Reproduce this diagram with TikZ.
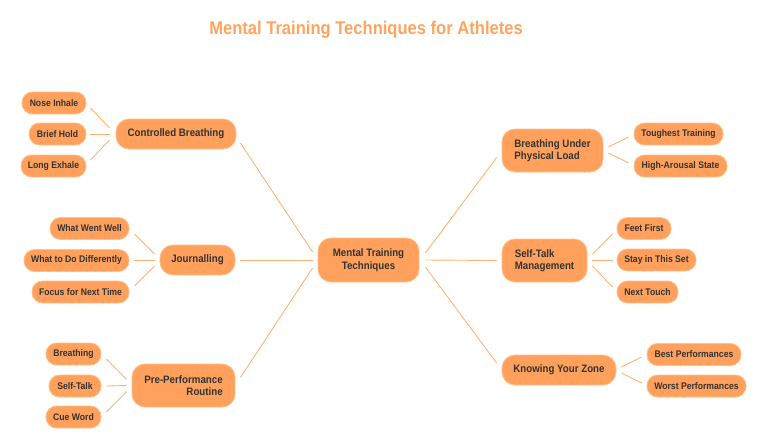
\documentclass[tikz,border=0pt]{standalone}
\usepackage{fontspec}
\setmainfont{Liberation Sans}[FakeStretch=0.9]
\usetikzlibrary{calc}
\definecolor{boxfill}{HTML}{FFA15C}
\definecolor{boxedge}{HTML}{FFC08A}
\definecolor{linec}{HTML}{FFB373}
\definecolor{txt}{HTML}{333333}
\definecolor{titlec}{HTML}{FFA45E}
\begin{document}
\begin{tikzpicture}[x=1pt,y=-1pt,
  box/.style={fill=boxfill,draw=boxedge,line width=0.8pt,text=txt,inner sep=0pt,
    font=\bfseries\fontsize{10.8}{12.5}\selectfont,rounded corners=13pt,minimum height=30pt},
  tall/.style={box,minimum height=43pt},
  leaf/.style={box,font=\bfseries\fontsize{9.6}{11}\selectfont,rounded corners=10.5pt,minimum height=22pt},
  conn/.style={draw=linec,line width=0.9pt}]
\useasboundingbox (0,0) rectangle (767,436);

\node[text=titlec,font=\bfseries\fontsize{18.4}{20}\selectfont] (title) at (366,30) {Mental Training Techniques for Athletes};

% centre
\node[tall,minimum width=101pt,minimum height=44pt,align=center] (mt) at (368.5,260) {Mental Training\\Techniques};

% left main
\node[box,minimum width=120pt] (cb) at (176,134) {Controlled Breathing};
\node[box,minimum width=75pt] (jo) at (197.5,260) {Journalling};
\node[tall,minimum width=103pt,align=right] (pp) at (183.5,385.5) {Pre-Performance\\Routine};

% right main
\node[tall,minimum width=101pt,align=left] (bu) at (552.5,150.5) {Breathing Under\\Physical Load};
\node[tall,minimum width=85pt,align=left] (st) at (544.5,260.5) {Self-Talk\\Management};
\node[box,minimum width=114pt] (kz) at (559,370) {Knowing Your Zone};

% leaves left
\node[leaf,minimum width=64pt] (ni) at (54,103) {Nose Inhale};
\node[leaf,minimum width=57pt] (bh) at (57.5,134) {Brief Hold};
\node[leaf,minimum width=65pt] (le) at (53.5,166) {Long Exhale};

\node[leaf,minimum width=79pt] (wwl) at (89.5,228.5) {What Went Well};
\node[leaf,minimum width=105pt] (wdd) at (76.5,260.5) {What to Do Differently};
\node[leaf,minimum width=97pt] (fnt) at (80.5,292) {Focus for Next Time};

\node[leaf,minimum width=55pt] (br) at (73.5,354) {Breathing};
\node[leaf,minimum width=52pt] (stk) at (75,386) {Self-Talk};
\node[leaf,minimum width=55pt] (cw) at (73.5,417) {Cue Word};

% leaves right
\node[leaf,minimum width=89pt] (tt) at (678.5,134) {Toughest Training};
\node[leaf,minimum width=93pt] (has) at (680.5,166) {High-Arousal State};

\node[leaf,minimum width=54pt] (ff) at (644,228.5) {Feet First};
\node[leaf,minimum width=79pt] (sit) at (656.5,260) {Stay in This Set};
\node[leaf,minimum width=61pt] (nt) at (647.5,292) {Next Touch};

\node[leaf,minimum width=94pt] (bp) at (694,354.5) {Best Performances};
\node[leaf,minimum width=99pt] (wp) at (696.5,386) {Worst Performances};

% centre connectors
\draw[conn] ($(cb.east)+(4,9)$) -- ($(mt.west)+(-5,-8)$);
\draw[conn] ($(jo.east)+(5,0)$) -- ($(mt.west)+(-5,0)$);
\draw[conn] ($(pp.east)+(5,-8)$) -- ($(mt.west)+(-5,8)$);
\draw[conn] ($(mt.east)+(6,-7)$) -- ($(bu.west)+(-5,7)$);
\draw[conn] ($(mt.east)+(6,0)$) -- ($(st.west)+(-5,0)$);
\draw[conn] ($(mt.east)+(6,7)$) -- ($(kz.west)+(-5,-7)$);

% left leaf connectors
\draw[conn] ($(ni.east)+(4,5)$) -- ($(cb.west)+(-6,-6)$);
\draw[conn] ($(bh.east)+(4,0)$) -- ($(cb.west)+(-6,0)$);
\draw[conn] ($(le.east)+(4,-6)$) -- ($(cb.west)+(-6,6)$);

\draw[conn] ($(wwl.east)+(5,5.5)$) -- ($(jo.west)+(-5,-6)$);
\draw[conn] ($(wdd.east)+(5,-0.5)$) -- ($(jo.west)+(-5,0)$);
\draw[conn] ($(fnt.east)+(5,-6)$) -- ($(jo.west)+(-5,6)$);

\draw[conn] ($(br.east)+(5,5)$) -- ($(pp.west)+(-5,-6)$);
\draw[conn] ($(stk.east)+(5,0)$) -- ($(pp.west)+(-5,0)$);
\draw[conn] ($(cw.east)+(5,-5)$) -- ($(pp.west)+(-5,6)$);

% right leaf connectors
\draw[conn] ($(bu.east)+(5,-3.5)$) -- ($(tt.west)+(-5,3)$);
\draw[conn] ($(bu.east)+(5,2.5)$) -- ($(has.west)+(-5,-3)$);

\draw[conn] ($(st.east)+(5,-6.5)$) -- ($(ff.west)+(-4,5.5)$);
\draw[conn] ($(st.east)+(5,-0.5)$) -- ($(sit.west)+(-4,0)$);
\draw[conn] ($(st.east)+(5,5.5)$) -- ($(nt.west)+(-4,-5)$);

\draw[conn] ($(kz.east)+(5,-3)$) -- ($(bp.west)+(-5,2.5)$);
\draw[conn] ($(kz.east)+(5,3)$) -- ($(wp.west)+(-5,-3)$);
\end{tikzpicture}
\end{document}
